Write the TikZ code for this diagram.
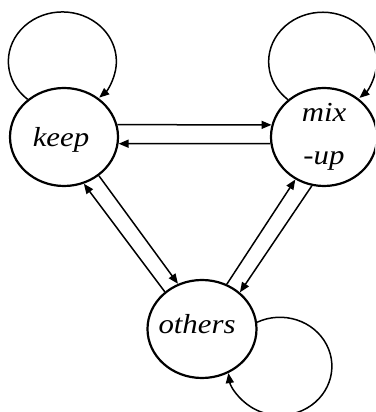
\documentclass[tikz,border=0pt]{standalone}
\usepackage{fontspec}
\setmainfont{Liberation Serif}
\usetikzlibrary{shapes.geometric,arrows.meta}
\newcommand{\stxt}[1]{\scalebox{1.12}[1]{#1}}
\tikzset{
  state/.style={draw, ellipse, line width=2.2pt, inner sep=0pt,
    font=\itshape\fontsize{27.5}{43}\selectfont, align=center},
  conn/.style={line width=1.5pt, -{Triangle[length=10pt,width=8pt]}}
}
\begin{document}
\begin{tikzpicture}[x=1pt,y=1pt]
\clip (0,0) rectangle (375,412);
\fill[white] (0,0) rectangle (375,412);
\node[state, minimum width=108pt, minimum height=98pt, text height=20pt, text depth=0pt] (keep) at (64,275) {\hspace*{-6pt}\stxt{keep}};
\node[state, minimum width=106pt, minimum height=98pt] (mix) at (324,275) {\stxt{mix}\\\stxt{-up}};
\node[state, minimum width=109pt, minimum height=98pt, text depth=10pt] (others) at (202,83) {\hspace*{-10pt}\stxt{others}};
% self loops
\draw[conn] (keep.134) arc[start angle=230, end angle=-47, x radius=54, y radius=49.5];
\draw[conn] (mix.134) arc[start angle=230, end angle=-47, x radius=54, y radius=49.5];
\draw[conn] (others.7.5) arc[start angle=116, end angle=-172, x radius=52, y radius=49];
% horizontal pair
\draw[conn] (keep.13) -- (mix.167);
\draw[conn] (mix.187.5) -- (keep.-7.5);
% left pair
\draw[conn] (keep.-48.7) -- (others.118.5);
\draw[conn] (others.135.7) -- (keep.-67);
% right pair
\draw[conn] (others.61.5) -- (mix.236);
\draw[conn] (mix.256.5) -- (others.44.5);
\end{tikzpicture}
\end{document}
